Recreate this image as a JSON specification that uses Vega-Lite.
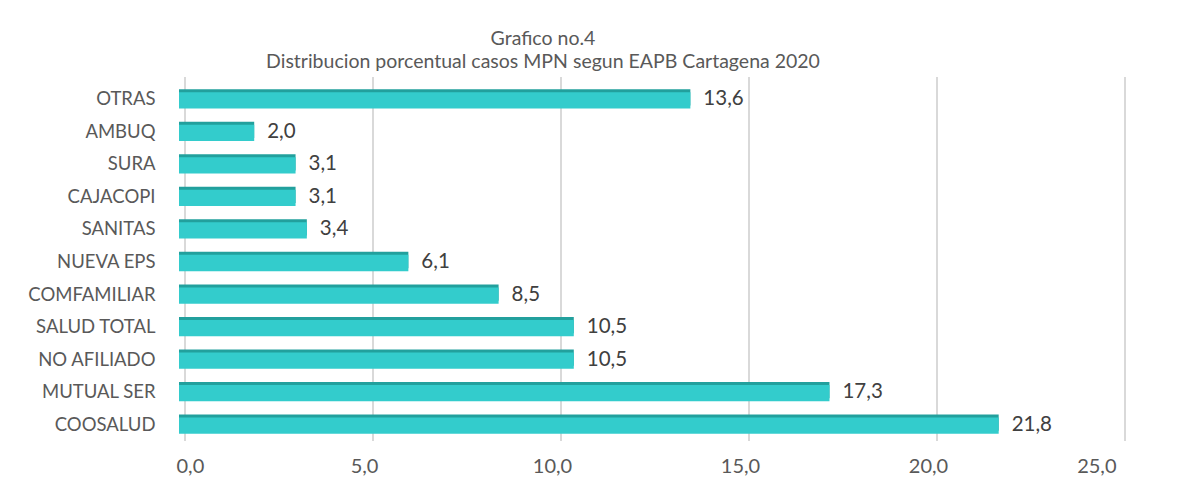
{
  "$schema": "https://vega.github.io/schema/vega-lite/v6.json",
  "width": 940,
  "height": 358,
  "autosize": {"type": "none"},
  "padding": {"left": 176, "top": 83, "right": 65, "bottom": 56},
  "background": "#ffffff",
  "config": {
    "view": {"stroke": null},
    "font": "Lato",
    "locale": {"number": {"decimal": ",", "thousands": ".", "grouping": [3], "currency": ["", ""]}}
  },
  "title": {
    "text": ["Grafico no.4", "Distribucion porcentual casos MPN segun EAPB Cartagena 2020"],
    "fontSize": 19.5,
    "fontWeight": "normal",
    "color": "#595959",
    "lineHeight": 23,
    "offset": 4,
    "dx": -103
  },
  "datasets": {
    "eapb": [
      {"eapb": "OTRAS", "pct": 13.6},
      {"eapb": "AMBUQ", "pct": 2.0},
      {"eapb": "SURA", "pct": 3.1},
      {"eapb": "CAJACOPI", "pct": 3.1},
      {"eapb": "SANITAS", "pct": 3.4},
      {"eapb": "NUEVA EPS", "pct": 6.1},
      {"eapb": "COMFAMILIAR", "pct": 8.5},
      {"eapb": "SALUD TOTAL", "pct": 10.5},
      {"eapb": "NO AFILIADO", "pct": 10.5},
      {"eapb": "MUTUAL SER", "pct": 17.3},
      {"eapb": "COOSALUD", "pct": 21.8}
    ],
    "ticks": [{"t": 0}, {"t": 5}, {"t": 10}, {"t": 15}, {"t": 20}, {"t": 25}]
  },
  "layer": [
    {
      "data": {"name": "ticks"},
      "mark": {"type": "rule", "color": "#d9d9d9", "strokeWidth": 2, "xOffset": 9, "yOffset": -6},
      "encoding": {
        "x": {"field": "t", "type": "quantitative", "scale": {"domain": [0, 25], "nice": false}}
      }
    },
    {
      "data": {"name": "eapb"},
      "encoding": {
        "y": {
          "field": "eapb", "type": "nominal", "sort": null,
          "scale": {"paddingInner": 0.5, "paddingOuter": 0.25},
          "axis": {
            "title": null, "domain": false, "ticks": false, "labelPadding": 21,
            "labelFontSize": 18.5, "labelColor": "#595959", "labelFont": "Lato"
          }
        },
        "x": {
          "field": "pct", "type": "quantitative",
          "scale": {"domain": [0, 25], "nice": false},
          "axis": {
            "title": null, "values": [0, 5, 10, 15, 20, 25], "format": ".1f",
            "grid": false, "domain": false, "ticks": false, "labelPadding": 15,
            "labelFontSize": 20, "labelColor": "#595959", "labelFont": "Lato"
          }
        }
      },
      "layer": [
        {"mark": {"type": "bar", "color": "#22a09d", "x2Offset": 3, "yOffset": -2, "xOffset": 3}},
        {"mark": {"type": "bar", "color": "#33cccc", "xOffset": 3, "yOffset": 1, "y2Offset": 0}},
        {
          "mark": {"type": "text", "align": "left", "baseline": "middle", "dx": 16, "fontSize": 20.5, "color": "#404040"},
          "encoding": {"text": {"field": "pct", "type": "quantitative", "format": ".1f"}}
        }
      ]
    }
  ]
}
